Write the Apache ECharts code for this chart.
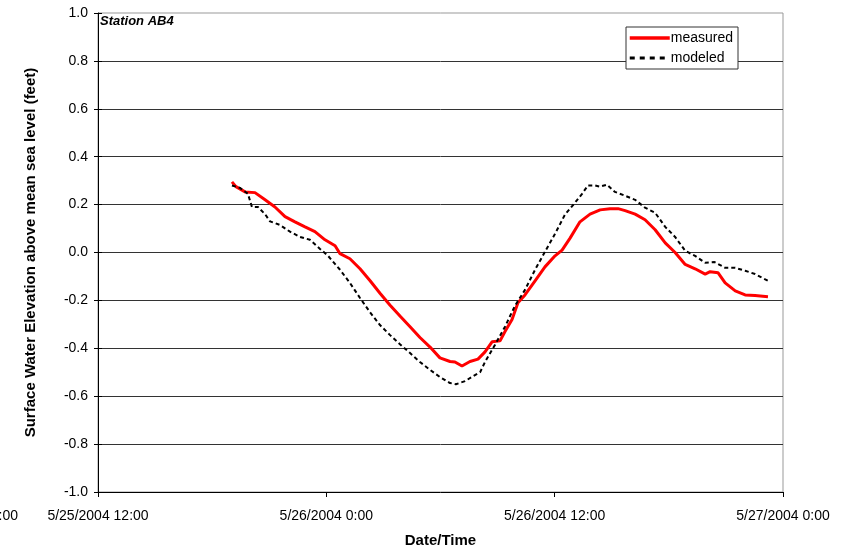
<!DOCTYPE html>
<html lang="en">
<head>
    <meta charset="utf-8" />
    <title>Station AB4</title>
    <script src="https://cdn.jsdelivr.net/npm/echarts@6/dist/echarts.min.js"></script>
    <style>
        html, body { margin: 0; padding: 0; background: #fff; }
        #chart { width: 846px; height: 552px; }
    </style>
</head>
<body>
    <div id="chart"></div>
    <script>
        // hours after 5/25/2004 12:00
        var timeLabels = ['5/25/2004 12:00', '5/26/2004 0:00', '5/26/2004 12:00', '5/27/2004 0:00'];

        var measuredHours = [7.04, 7.25, 7.73, 8.25, 8.78, 9.30, 9.83, 10.35, 10.88, 11.40, 11.93, 12.46, 12.72, 13.24,
            13.77, 14.30, 14.82, 15.35, 15.87, 16.40, 16.92, 17.45, 17.97, 18.50, 18.76, 19.13, 19.55, 19.97, 20.34,
            20.71, 21.13, 21.39, 21.76, 22.07, 22.44, 22.97, 23.49, 24.02, 24.39, 24.81, 25.33, 25.86, 26.39, 26.91,
            27.33, 27.70, 28.23, 28.75, 29.28, 29.81, 30.33, 30.86, 31.38, 31.91, 32.17, 32.59, 32.96, 33.49, 34.01,
            34.53, 35.21];
        var measured = [0.295, 0.275, 0.253, 0.25, 0.22, 0.19, 0.15, 0.128, 0.107, 0.087, 0.053, 0.028, -0.005, -0.026,
            -0.068, -0.118, -0.17, -0.22, -0.265, -0.31, -0.355, -0.395, -0.44, -0.455, -0.457, -0.474, -0.455, -0.445, -0.415,
            -0.373, -0.369, -0.33, -0.28, -0.21, -0.177, -0.118, -0.06, -0.014, 0.01, 0.06, 0.128, 0.16, 0.178, 0.183,
            0.183, 0.175, 0.16, 0.137, 0.095, 0.04, 0.0, -0.05, -0.068, -0.09, -0.08, -0.085, -0.127, -0.16, -0.177,
            -0.18, -0.185];

        var modeledHours = [7.04, 7.46, 7.88, 8.09, 8.41, 8.78, 9.04, 9.56, 10.09, 10.62, 11.14, 11.67, 12.09, 12.72,
            13.24, 13.77, 14.30, 14.82, 15.35, 15.87, 16.40, 16.92, 17.45, 17.97, 18.50, 18.81, 19.29, 19.81, 20.08,
            20.34, 20.86, 21.39, 21.91, 22.44, 22.97, 23.49, 24.02, 24.54, 25.07, 25.44, 25.75, 26.12, 26.38, 26.75,
            27.17, 27.70, 28.23, 28.75, 29.28, 29.81, 30.33, 30.86, 31.38, 31.91, 32.40, 32.96, 33.49, 34.01, 34.53,
            35.21];
        var modeled = [0.28, 0.27, 0.245, 0.19, 0.19, 0.16, 0.13, 0.115, 0.087, 0.065, 0.053, 0.015, -0.014, -0.072,
            -0.127, -0.19, -0.25, -0.303, -0.345, -0.383, -0.42, -0.457, -0.49, -0.52, -0.545, -0.55, -0.537, -0.512, -0.5,
            -0.457, -0.386, -0.31, -0.223, -0.156, -0.072, 0.003, 0.078, 0.158, 0.208, 0.245, 0.28, 0.28, 0.275, 0.283,
            0.253, 0.237, 0.22, 0.187, 0.166, 0.107, 0.065, 0.007, -0.014, -0.043, -0.04, -0.064, -0.064, -0.076, -0.09,
            -0.118];

        function pairs(xs, ys) {
            var out = [];
            for (var i = 0; i < xs.length; i++) out.push([xs[i], ys[i]]);
            return out;
        }

        var font = 'Arial, "Liberation Sans", sans-serif';
        var myChart = echarts.init(document.getElementById('chart'));

        var yBase = {
            type: 'value',
            min: -1.0,
            max: 1.0,
            interval: 0.2
        };

        var option = {
            animation: false,
            backgroundColor: '#fff',
            textStyle: { fontFamily: font },
            grid: {
                left: 98, right: 63, top: 13, bottom: 60,
                outerBoundsMode: 'none',
                show: true, borderColor: '#999', borderWidth: 1, backgroundColor: 'transparent'
            },
            legend: {
                orient: 'vertical',
                left: 626, top: 27,
                padding: [4, 5, 4, 2],
                itemGap: 6,
                itemWidth: 40, itemHeight: 12,
                backgroundColor: '#fff',
                borderColor: '#333', borderWidth: 1,
                itemStyle: { opacity: 0, borderWidth: 0 },
                textStyle: { fontSize: 14, color: '#000', fontFamily: font, padding: [0, 0, 0, -4] },
                data: [
                    { name: 'measured', lineStyle: { width: 3.5, color: '#ff0000' } },
                    { name: 'modeled', lineStyle: { width: 3, color: '#000', type: [5, 5] } }
                ]
            },
            xAxis: {
                type: 'value',
                min: 0, max: 36, interval: 12,
                name: 'Date/Time',
                nameLocation: 'middle',
                nameGap: 41,
                nameTextStyle: { fontWeight: 'bold', fontSize: 15, color: '#000' },
                axisLine: { onZero: false, lineStyle: { color: '#000', width: 1 } },
                axisTick: { length: 5, lineStyle: { color: '#000' } },
                axisLabel: {
                    fontSize: 14, color: '#000', margin: 17,
                    formatter: function (v) { return timeLabels[Math.round(v / 12)]; }
                },
                splitLine: { show: false }
            },
            yAxis: [
                Object.assign({}, yBase, {
                    name: 'Surface Water Elevation above mean sea level (feet)',
                    nameLocation: 'middle',
                    nameGap: 60,
                    nameTextStyle: { fontWeight: 'bold', fontSize: 15, color: '#000' },
                    axisLine: { show: true, onZero: false, lineStyle: { color: '#000', width: 1 } },
                    axisTick: { show: true, length: 4, lineStyle: { color: '#000' } },
                    axisLabel: {
                        fontSize: 14, color: '#000', margin: 10,
                        formatter: function (v) { return v.toFixed(1); }
                    },
                    splitLine: { show: true, showMaxLine: false, showMinLine: false, lineStyle: { color: '#333', width: 1 } }
                }),
                Object.assign({}, yBase, {
                    position: 'left',
                    axisLine: { show: false, onZero: false },
                    axisTick: { show: true, inside: true, length: 4, lineStyle: { color: '#000' } },
                    axisLabel: { show: false },
                    splitLine: { show: false }
                })
            ],
            graphic: [
                {
                    type: 'text', left: 100, top: 15,
                    style: { text: 'Station AB4', font: 'italic bold 13px Arial, "Liberation Sans", sans-serif', fill: '#000' }
                },
                {
                    type: 'text', x: 18, y: 509,
                    style: { text: '5/25/2004 0:00', font: '14px Arial, "Liberation Sans", sans-serif', fill: '#000', align: 'right' }
                }
            ],
            series: [
                {
                    name: 'modeled',
                    type: 'line',
                    data: pairs(modeledHours, modeled),
                    showSymbol: false, symbol: 'none',
                    lineStyle: { color: '#000', width: 2, type: [4, 3] },
                    itemStyle: { color: '#000' },
                    z: 3
                },
                {
                    name: 'measured',
                    type: 'line',
                    data: pairs(measuredHours, measured),
                    showSymbol: false, symbol: 'none',
                    lineStyle: { color: '#ff0000', width: 3 },
                    itemStyle: { color: '#ff0000' },
                    z: 2
                }
            ]
        };
        myChart.setOption(option);
    </script>
</body>
</html>
